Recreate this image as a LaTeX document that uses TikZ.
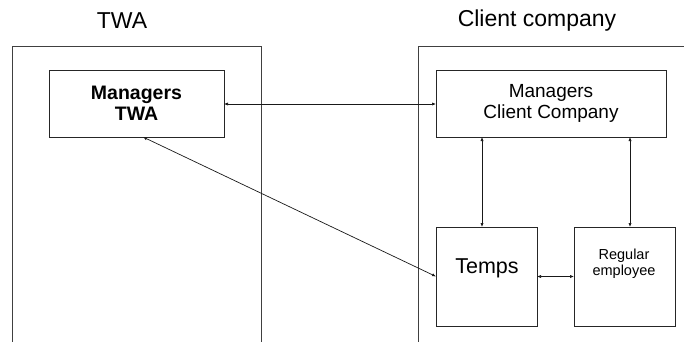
\documentclass[tikz,border=0pt]{standalone}
\usepackage{fontspec}
\setmainfont{Liberation Sans}
\usetikzlibrary{arrows.meta,calc}
\begin{document}
\begin{tikzpicture}[x=1pt,y=-1pt,
  frame/.style={draw=black!75,line width=0.9pt},
  box/.style={draw=black!85,line width=0.8pt,inner sep=0pt,outer sep=0pt},
  link/.style={draw=black!90,line width=0.7pt,{Latex[length=4pt,width=3.2pt]}-{Latex[length=4pt,width=3.2pt]}},
  title/.style={font=\fontsize{23}{26}\selectfont,inner sep=0pt}]
\useasboundingbox (0,0) rectangle (684,342);
% outer frames (open)
\draw[frame] (12,342) -- (12,46) -- (261,46) -- (261,342);
\draw[frame] (418,342) -- (418,46) -- (684,46);
\node[title] (ttwa) at (122,21) {TWA};
\node[title] (tcc) at (537,21) {Client company};
% boxes
\node[box,minimum width=175pt,minimum height=67pt] (mtwa) at (136.5,104) {};
\node[box,minimum width=230pt,minimum height=67pt] (mcc) at (551,104) {};
\node[box,minimum width=101pt,minimum height=99pt] (temps) at (486.5,276.5) {};
\node[box,minimum width=101pt,minimum height=99pt] (reg) at (624.5,276.5) {};
% texts
\node[font=\fontsize{19.5}{22}\selectfont\bfseries,align=center,inner sep=0pt] (mtwat) at (136.5,103) {Managers\\[-1pt]TWA};
\node[font=\fontsize{19}{22}\selectfont,align=center,inner sep=0pt] (mcct) at (551,103) {Managers\\[-1pt]Client Company};
\node[font=\fontsize{21.5}{24}\selectfont,inner sep=0pt] (tempst) at (487,268) {Temps};
\node[font=\fontsize{14.5}{17}\selectfont,align=center,inner sep=0pt] (regt) at (624,264) {Regular\\[-1pt]employee};
% connectors
\draw[link] (mtwa.east) -- (mcc.west);
\coordinate (a1) at (482,137);
\coordinate (a2) at (630,137);
\coordinate (d1) at (143,137);
\draw[link] (a1) -- (a1 |- temps.north);
\draw[link] (a2) -- (a2 |- reg.north);
\draw[link] (temps.east) -- (reg.west);
\draw[link] (d1) -- (temps.west);
\end{tikzpicture}
\end{document}
